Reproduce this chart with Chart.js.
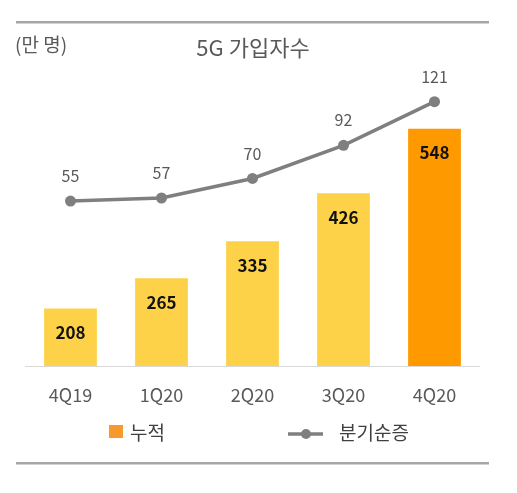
<!DOCTYPE html>
<html>
<head>
<meta charset="utf-8">
<script src="https://cdn.jsdelivr.net/npm/chart.js@4"></script>
<style>
  html, body { margin: 0; padding: 0; background: #fff; }
  #wrap { width: 517px; height: 493px; position: relative; }
</style>
</head>
<body>
<div id="wrap"><canvas id="chart"></canvas></div>
<script>
const quarters = ['4Q19', '1Q20', '2Q20', '3Q20', '4Q20'];
const cumulative = [208, 265, 335, 426, 548];
const netAdds = [55, 57, 70, 92, 121];
const barColors = ['#FDD249', '#FDD249', '#FDD249', '#FDD249', '#FF9900'];

const FONT = '"Noto Sans CJK KR", "Noto Sans", sans-serif';

// title, unit, rules, labels and legend
const decorPlugin = {
  id: 'decor',
  afterDraw(chart) {
    const ctx = chart.ctx;
    const x = chart.scales.x;
    const area = chart.chartArea;
    const lineIdx = 0, barIdx = 1;
    ctx.save();

    // top / bottom rules
    ctx.fillStyle = '#a6a6a6';
    ctx.fillRect(16, 21, 473, 2.5);
    ctx.fillRect(16, 462, 473, 2.5);

    // baseline
    ctx.fillStyle = '#d9d9d9';
    ctx.fillRect(area.left, area.bottom, area.right - area.left, 1);

    ctx.textBaseline = 'middle';
    ctx.fillStyle = '#595959';
    ctx.font = '19px ' + FONT;
    ctx.textAlign = 'left';
    ctx.fillText('(만 명)', 15, 45);
    ctx.font = '22px ' + FONT;
    ctx.textAlign = 'center';
    ctx.fillText('5G 가입자수', 253, 48);

    // category labels
    ctx.font = '18px ' + FONT;
    ctx.fillStyle = '#595959';
    quarters.forEach((q, i) => {
      ctx.fillText(q, x.getPixelForValue(i), 395);
    });

    // bar value labels
    const barMeta = chart.getDatasetMeta(barIdx);
    ctx.font = 'bold 17px ' + FONT;
    ctx.fillStyle = '#111';
    barMeta.data.forEach((bar, i) => {
      ctx.fillText(String(cumulative[i]), bar.x, bar.y + 24);
    });

    // line value labels
    const lineMeta = chart.getDatasetMeta(lineIdx);
    ctx.font = '16px ' + FONT;
    ctx.fillStyle = '#595959';
    lineMeta.data.forEach((pt, i) => {
      ctx.fillText(String(netAdds[i]), pt.x, pt.y - 25);
    });

    // legend
    ctx.fillStyle = '#F79A2E';
    ctx.fillRect(109, 425, 14, 13);
    ctx.fillStyle = '#404040';
    ctx.font = '19px ' + FONT;
    ctx.textAlign = 'left';
    ctx.fillText(chart.data.datasets[barIdx].label, 130, 433);
    ctx.strokeStyle = '#7f7f7f';
    ctx.lineWidth = 3.5;
    ctx.beginPath();
    ctx.moveTo(288, 434);
    ctx.lineTo(323, 434);
    ctx.stroke();
    ctx.fillStyle = '#7f7f7f';
    ctx.beginPath();
    ctx.arc(306, 434, 5, 0, Math.PI * 2);
    ctx.fill();
    ctx.fillStyle = '#404040';
    ctx.fillText(chart.data.datasets[lineIdx].label, 339, 433);

    ctx.restore();
  }
};

new Chart(document.getElementById('chart'), {
  data: {
    labels: quarters,
    datasets: [
      {
        type: 'line',
        label: '분기순증',
        data: netAdds,
        yAxisID: 'y2',
        borderColor: '#7f7f7f',
        backgroundColor: '#7f7f7f',
        borderWidth: 3.5,
        pointRadius: 5.5,
        pointBackgroundColor: '#7f7f7f',
        pointBorderWidth: 0,
        tension: 0,
        order: 0
      },
      {
        type: 'bar',
        label: '누적',
        data: cumulative,
        yAxisID: 'y',
        backgroundColor: barColors,
        barPercentage: 1,
        categoryPercentage: 0.58,
        order: 1
      }
    ]
  },
  options: {
    responsive: true,
    maintainAspectRatio: false,
    animation: false,
    layout: { padding: { left: 25, right: 37, top: 80, bottom: 127 } },
    plugins: {
      legend: { display: false },
      tooltip: { enabled: false }
    },
    scales: {
      x: { display: false },
      y: { display: false, min: 99, max: 640 },
      y2: { display: false, position: 'right', min: -54.6, max: 135.4 }
    }
  },
  plugins: [decorPlugin]
});
</script>
</body>
</html>
